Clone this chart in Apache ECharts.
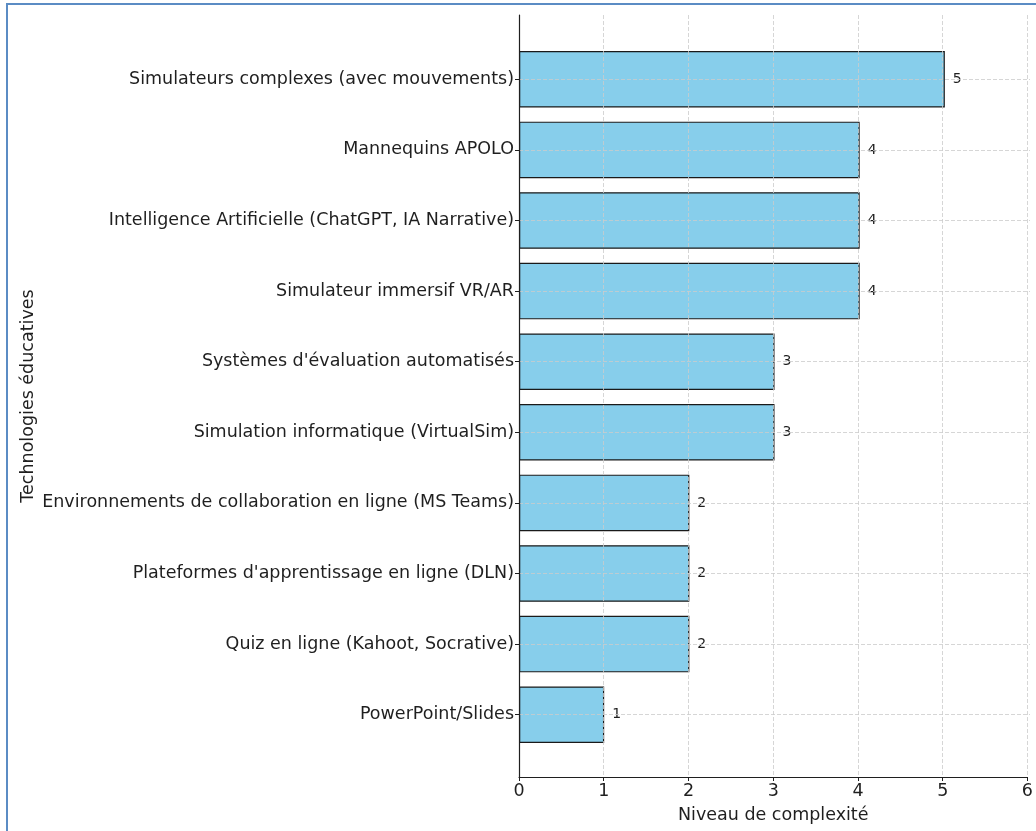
<!DOCTYPE html>
<html>
<head>
<meta charset="utf-8">
<script src="https://cdn.jsdelivr.net/npm/echarts@6/dist/echarts.min.js"></script>
<style>
  html, body { margin: 0; padding: 0; background: #fff; }
  #chart { width: 1036px; height: 831px; }
</style>
</head>
<body>
<div id="chart"></div>
<script>
// Technologies, listed top to bottom
const categories = [
  'Simulateurs complexes (avec mouvements)',
  'Mannequins APOLO',
  'Intelligence Artificielle (ChatGPT, IA Narrative)',
  'Simulateur immersif VR/AR',
  "Systèmes d'évaluation automatisés",
  'Simulation informatique (VirtualSim)',
  'Environnements de collaboration en ligne (MS Teams)',
  "Plateformes d'apprentissage en ligne (DLN)",
  'Quiz en ligne (Kahoot, Socrative)',
  'PowerPoint/Slides'
];
// Complexity level of each technology
const complexity = [5, 4, 4, 4, 3, 3, 2, 2, 2, 1];
const xTicks = [0, 1, 2, 3, 4, 5, 6];

const font = 'DejaVu Sans, Noto Sans, sans-serif';
const ink = '#1f1f1f';
const gridColor = '#cccccc';

const chart = echarts.init(document.getElementById('chart'), null, { renderer: 'canvas' });

// Frame grid spans the full axes box; bar grid sits inside it with
// half-band margins so the categories keep matplotlib-style padding.
const frameTop = 15, frameBottom = 831 - 777;
const left = 519, right = 1036 - 1030;
const bandPad = 28;

chart.setOption({
  animation: false,
  backgroundColor: '#ffffff',
  graphic: [{
    type: 'rect',
    shape: { x: 7, y: 4, width: 1100, height: 900 },
    style: { fill: 'none', stroke: '#5b8cc4', lineWidth: 2 },
    z: 100
  }],
  grid: [
    { left: left, right: right, top: frameTop, bottom: frameBottom, containLabel: false },
    { left: left, right: right, top: frameTop + bandPad + 1, bottom: frameBottom + bandPad - 1, containLabel: false }
  ],
  xAxis: [
    {
      gridIndex: 0, type: 'value', min: xTicks[0], max: xTicks[xTicks.length - 1], interval: 1,
      z: 10,
      name: 'Niveau de complexité', nameLocation: 'middle', nameGap: 29,
      nameTextStyle: { fontFamily: font, fontSize: 17.5, color: ink },
      axisLine: { show: true, onZero: false, lineStyle: { color: ink, width: 1.2 } },
      axisTick: { show: true, inside: false, length: 4, lineStyle: { color: ink, width: 1 } },
      axisLabel: { fontFamily: font, fontSize: 17.5, color: ink, margin: 5 },
      splitLine: { show: true, lineStyle: { color: gridColor, type: [4, 2], width: 0.8 } }
    },
    {
      gridIndex: 1, type: 'value', min: 0, max: 6, show: false,
      splitLine: { show: false }
    }
  ],
  yAxis: [
    {
      gridIndex: 0, type: 'value', min: 0, max: 1,
      z: 12,
      name: 'Technologies éducatives', nameLocation: 'middle', nameGap: 482, nameRotate: 90,
      nameTextStyle: { fontFamily: font, fontSize: 17.5, color: ink },
      axisLine: { show: true, lineStyle: { color: ink, width: 1.2 } },
      axisTick: { show: false }, axisLabel: { show: false },
      splitLine: { show: false }
    },
    {
      gridIndex: 1, type: 'category', data: categories, inverse: true,
      axisLine: { show: false },
      axisTick: { show: true, alignWithLabel: true, length: 4, lineStyle: { color: ink, width: 1 } },
      axisLabel: { fontFamily: font, fontSize: 17.5, color: ink, margin: 5 },
      splitLine: { show: false }
    }
  ],
  series: [{
    type: 'bar',
    xAxisIndex: 1, yAxisIndex: 1,
    data: complexity,
    barWidth: '80%',
    itemStyle: { color: '#87ceeb', borderColor: '#1a1a1a', borderWidth: 1.2 },
    label: {
      show: true, position: 'right', distance: 8,
      fontFamily: font, fontSize: 14, color: ink
    },
    markLine: {
      silent: true, symbol: ['none', 'none'], z: 10,
      label: { show: false },
      lineStyle: { color: gridColor, type: [4, 2], width: 0.8 },
      data: categories.map(c => ({ yAxis: c }))
    }
  }]
});
</script>
</body>
</html>
